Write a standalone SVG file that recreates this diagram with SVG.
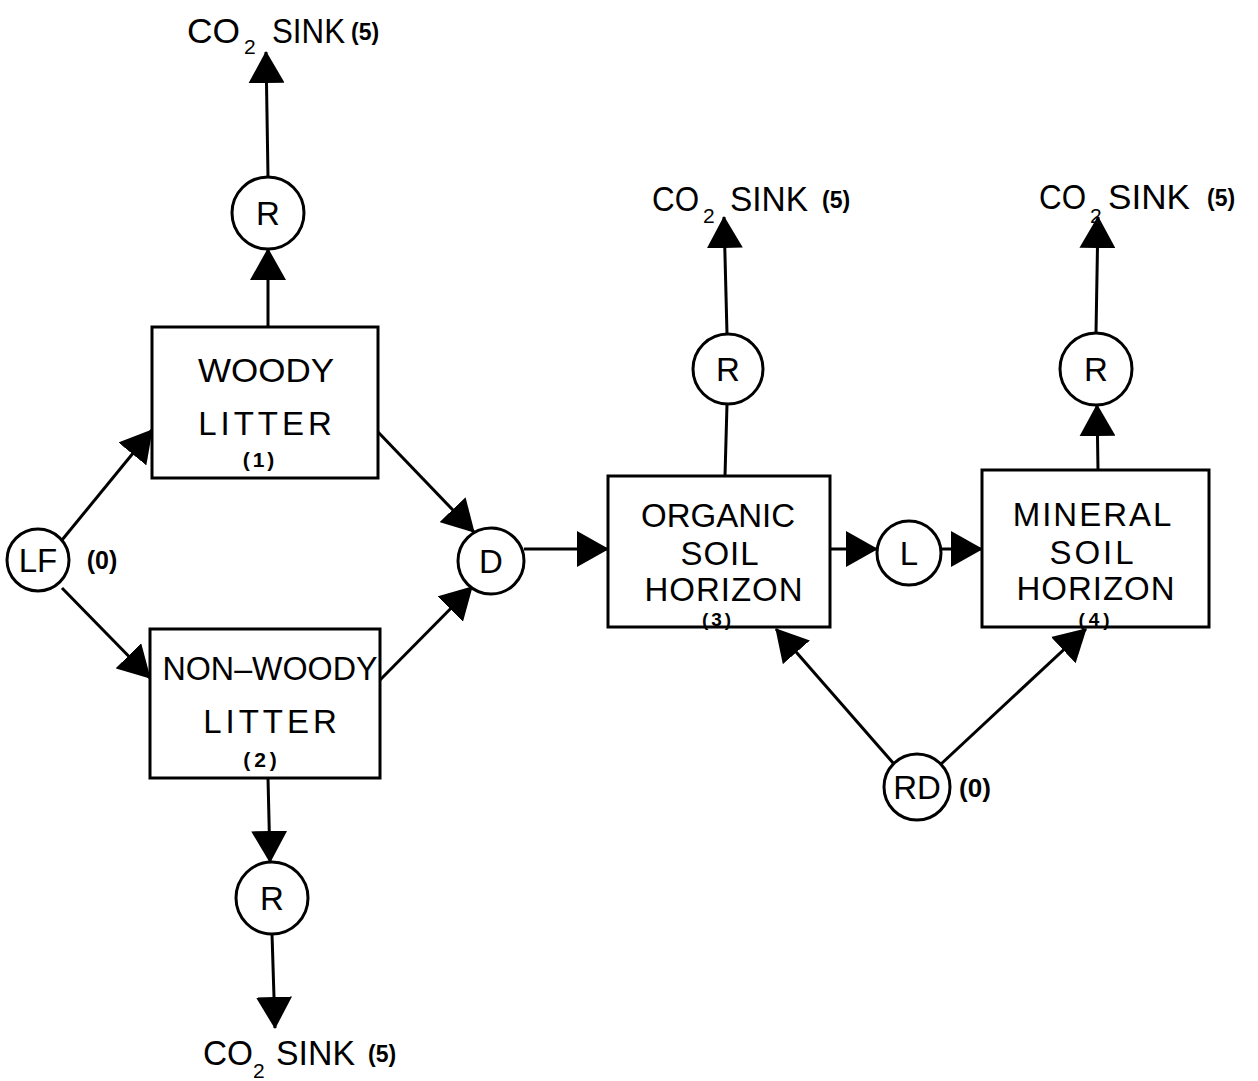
<svg xmlns="http://www.w3.org/2000/svg" width="1258" height="1081" viewBox="0 0 1258 1081">
<defs>
<marker id="ah" viewBox="0 0 32 36" refX="31" refY="18" markerUnits="userSpaceOnUse" markerWidth="32" markerHeight="36" orient="auto">
<path d="M0,0 L32,18 L0,36 z" fill="#000"/>
</marker>
<style>
.box{fill:#fff;stroke:#000;stroke-width:3}
.cir{fill:#fff;stroke:#000;stroke-width:3}
.ln{fill:none;stroke:#000;stroke-width:3}
.arr{fill:none;stroke:#000;stroke-width:3;marker-end:url(#ah)}
text{font-family:"Liberation Sans",Arial,sans-serif;fill:#000}
.lbl{font-size:33px;text-anchor:middle}
.num{font-size:21px;font-weight:bold;text-anchor:middle}
.sink{font-size:35px}
.sub{font-size:21px}
.s5{font-size:23px;font-weight:bold}
.cl{font-size:33px;text-anchor:middle}
</style>
</defs>
<rect width="1258" height="1081" fill="#fff"/>
<g id="connectors">
<line class="arr" x1="62" y1="540" x2="152" y2="430"/>
<line class="arr" x1="62" y1="588" x2="150" y2="678"/>
<line class="arr" x1="378" y1="432" x2="474" y2="532"/>
<line class="arr" x1="380" y1="680" x2="472" y2="587"/>
<line class="arr" x1="524" y1="549" x2="608" y2="549"/>
<line class="arr" x1="830" y1="549" x2="877" y2="549"/>
<line class="arr" x1="941" y1="549" x2="982" y2="549"/>
<line class="arr" x1="268" y1="327" x2="268" y2="249"/>
<line class="arr" x1="268" y1="177" x2="266" y2="52"/>
<line class="ln" x1="725" y1="476" x2="727" y2="404"/>
<line class="arr" x1="727" y1="334" x2="724" y2="217"/>
<line class="arr" x1="1098" y1="470" x2="1097" y2="405"/>
<line class="arr" x1="1096" y1="333" x2="1098" y2="217"/>
<line class="arr" x1="268" y1="778" x2="270" y2="862"/>
<line class="arr" x1="272" y1="934" x2="275" y2="1028"/>
<line class="arr" x1="894" y1="764" x2="776" y2="629"/>
<line class="arr" x1="941" y1="764" x2="1086" y2="629"/>
</g>
<g id="sink1">
<text class="sink" x="187" y="43" textLength="53" lengthAdjust="spacingAndGlyphs">CO</text>
<text class="sub" x="244" y="54">2</text>
<text class="sink" x="272" y="43" textLength="73" lengthAdjust="spacingAndGlyphs">SINK</text>
<text class="s5" x="351" y="40">(5)</text>
</g>
<g id="sink3">
<text class="sink" x="652" y="211" textLength="47" lengthAdjust="spacingAndGlyphs">CO</text>
<text class="sub" x="703" y="223">2</text>
<text class="sink" x="730" y="211" textLength="78" lengthAdjust="spacingAndGlyphs">SINK</text>
<text class="s5" x="822" y="208">(5)</text>
</g>
<g id="sink4">
<text class="sink" x="1039" y="209" textLength="47" lengthAdjust="spacingAndGlyphs">CO</text>
<text class="sub" x="1090" y="223">2</text>
<text class="sink" x="1108" y="209" textLength="82" lengthAdjust="spacingAndGlyphs">SINK</text>
<text class="s5" x="1207" y="206">(5)</text>
</g>
<g id="sink2">
<text class="sink" x="203" y="1065" textLength="50" lengthAdjust="spacingAndGlyphs">CO</text>
<text class="sub" x="253" y="1078">2</text>
<text class="sink" x="276" y="1065" textLength="79" lengthAdjust="spacingAndGlyphs">SINK</text>
<text class="s5" x="368" y="1062">(5)</text>
</g>
<g id="woody">
<rect class="box" x="152" y="327" width="226" height="151"/>
<text class="lbl" x="266" y="382" textLength="136" lengthAdjust="spacingAndGlyphs">WOODY</text>
<text class="lbl" x="267" y="435" letter-spacing="4">LITTER</text>
<text class="num" x="260" y="467" letter-spacing="3">(1)</text>
</g>
<g id="nonwoody">
<rect class="box" x="150" y="629" width="230" height="149"/>
<text class="lbl" x="270" y="680" textLength="215" lengthAdjust="spacingAndGlyphs">NON–WOODY</text>
<text class="lbl" x="272" y="733" letter-spacing="4">LITTER</text>
<text class="num" x="262" y="767" letter-spacing="4">(2)</text>
</g>
<g id="organic">
<rect class="box" x="608" y="476" width="222" height="151"/>
<text class="lbl" x="718" y="527">ORGANIC</text>
<text class="lbl" x="720" y="565" letter-spacing="1">SOIL</text>
<text class="lbl" x="724" y="601" letter-spacing="1">HORIZON</text>
<text class="num" x="718" y="626" style="font-size:19px" letter-spacing="3">(3)</text>
</g>
<g id="mineral">
<rect class="box" x="982" y="470" width="227" height="157"/>
<text class="lbl" x="1093" y="526" letter-spacing="2">MINERAL</text>
<text class="lbl" x="1093" y="564" letter-spacing="3">SOIL</text>
<text class="lbl" x="1096" y="600" letter-spacing="1">HORIZON</text>
<text class="num" x="1096" y="626" style="font-size:19px" letter-spacing="4">(4)</text>
</g>
<g id="LF">
<circle class="cir" cx="38" cy="560" r="31"/>
<text class="cl" x="38" y="572">LF</text>
<text class="num" x="102" y="569" style="font-size:25px">(0)</text>
</g>
<g id="D">
<circle class="cir" cx="491" cy="561" r="33"/>
<text class="cl" x="491" y="573">D</text>
</g>
<g id="L">
<circle class="cir" cx="909" cy="553" r="32"/>
<text class="cl" x="909" y="565">L</text>
</g>
<g id="RD">
<circle class="cir" cx="917" cy="787" r="33"/>
<text class="cl" x="917" y="799">RD</text>
<text class="num" x="975" y="797" style="font-size:26px">(0)</text>
</g>
<g id="R1">
<circle class="cir" cx="268" cy="213" r="36"/>
<text class="cl" x="268" y="225">R</text>
</g>
<g id="R2">
<circle class="cir" cx="272" cy="898" r="36"/>
<text class="cl" x="272" y="910">R</text>
</g>
<g id="R3">
<circle class="cir" cx="728" cy="369" r="35"/>
<text class="cl" x="728" y="381">R</text>
</g>
<g id="R4">
<circle class="cir" cx="1096" cy="369" r="36"/>
<text class="cl" x="1096" y="381">R</text>
</g>
</svg>
